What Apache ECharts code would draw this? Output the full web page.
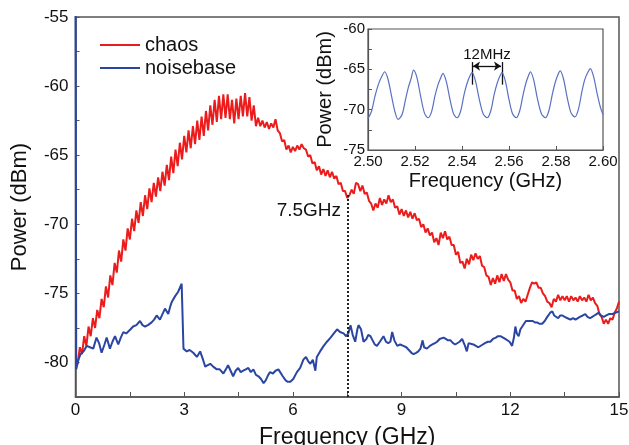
<!DOCTYPE html>
<html>
<head>
<meta charset="utf-8">
<script src="https://cdn.jsdelivr.net/npm/echarts@6/dist/echarts.min.js"></script>
<style>
  html, body { margin: 0; padding: 0; background: #fff; }
  #chart { width: 629px; height: 445px; }
</style>
</head>
<body>
<div id="chart"></div>
<script>
// chaos spectrum, [GHz, dBm]
const chaosSpectrum = [
  [0.00, -80.0], [0.06, -80.1], [0.12, -78.9], [0.18, -79.4], [0.24, -78.1], [0.30, -78.8],
  [0.36, -77.4], [0.42, -78.1], [0.48, -76.8], [0.54, -77.5], [0.60, -76.2], [0.66, -76.8],
  [0.72, -75.4], [0.78, -76.0], [0.84, -74.5], [0.90, -75.3], [0.96, -73.7], [1.02, -74.4],
  [1.08, -72.8], [1.14, -73.5], [1.20, -71.9], [1.26, -72.7], [1.32, -71.1], [1.38, -71.9],
  [1.44, -70.3], [1.50, -71.1], [1.56, -69.6], [1.62, -70.5], [1.68, -69.0], [1.74, -69.9],
  [1.80, -68.4], [1.86, -69.4], [1.92, -67.9], [1.98, -68.9], [2.04, -67.4], [2.10, -68.4],
  [2.16, -67.0], [2.22, -68.0], [2.28, -66.6], [2.34, -67.6], [2.40, -66.2], [2.46, -67.2],
  [2.52, -65.7], [2.58, -66.8], [2.64, -65.1], [2.70, -66.3], [2.76, -64.6], [2.82, -65.8],
  [2.88, -64.1], [2.94, -65.3], [3.00, -63.6], [3.06, -64.8], [3.12, -63.2], [3.18, -64.5],
  [3.24, -62.9], [3.30, -64.2], [3.36, -62.5], [3.42, -63.9], [3.48, -62.2], [3.54, -63.6],
  [3.60, -61.8], [3.66, -63.2], [3.72, -61.4], [3.78, -62.8], [3.84, -61.0], [3.90, -62.6],
  [3.96, -60.7], [4.02, -62.4], [4.08, -60.6], [4.14, -62.3], [4.20, -60.6], [4.26, -62.4],
  [4.32, -61.0], [4.38, -62.7], [4.44, -60.9], [4.50, -62.4], [4.56, -60.7], [4.62, -62.2],
  [4.68, -60.5], [4.74, -62.2], [4.80, -60.8], [4.86, -62.5], [4.92, -61.4], [4.98, -62.9],
  [5.04, -62.3], [5.10, -62.9], [5.16, -62.5], [5.22, -63.0], [5.28, -62.6], [5.34, -63.1],
  [5.40, -62.7], [5.46, -63.0], [5.52, -62.4], [5.58, -63.2], [5.64, -63.4], [5.70, -64.0],
  [5.76, -63.9], [5.82, -64.6], [5.88, -64.3], [5.94, -64.8], [6.00, -64.4], [6.06, -64.7],
  [6.12, -64.3], [6.18, -64.6], [6.24, -64.2], [6.30, -64.5], [6.36, -64.6], [6.42, -65.1],
  [6.48, -65.0], [6.54, -65.6], [6.60, -65.5], [6.66, -66.1], [6.72, -65.8], [6.78, -66.4],
  [6.84, -66.0], [6.90, -66.5], [6.96, -66.1], [7.02, -66.6], [7.08, -66.2], [7.14, -66.7],
  [7.20, -66.5], [7.26, -67.1], [7.32, -67.0], [7.38, -67.6], [7.44, -67.6], [7.50, -68.1],
  [7.56, -67.9], [7.62, -67.5], [7.68, -67.8], [7.74, -67.0], [7.80, -67.1], [7.86, -67.6],
  [7.92, -67.2], [7.98, -67.8], [8.04, -67.7], [8.10, -68.3], [8.16, -68.5], [8.22, -69.0],
  [8.28, -68.5], [8.34, -68.8], [8.40, -68.1], [8.46, -68.6], [8.52, -68.2], [8.58, -68.5],
  [8.64, -67.9], [8.70, -68.4], [8.76, -68.2], [8.82, -68.8], [8.88, -68.7], [8.94, -69.3],
  [9.00, -68.9], [9.06, -69.4], [9.12, -69.0], [9.18, -69.5], [9.24, -69.1], [9.30, -69.6],
  [9.36, -69.2], [9.42, -69.7], [9.48, -69.6], [9.54, -70.2], [9.60, -70.0], [9.66, -70.6],
  [9.72, -70.3], [9.78, -70.8], [9.84, -70.6], [9.90, -71.3], [9.96, -71.0], [10.02, -71.5],
  [10.08, -70.6], [10.14, -71.0], [10.20, -70.5], [10.26, -71.1], [10.32, -70.9], [10.38, -71.5],
  [10.44, -71.5], [10.50, -72.2], [10.56, -72.0], [10.62, -72.8], [10.68, -72.7], [10.74, -73.2],
  [10.80, -72.5], [10.86, -72.9], [10.92, -72.2], [10.98, -72.6], [11.04, -72.1], [11.10, -72.5],
  [11.16, -72.3], [11.22, -73.0], [11.28, -73.1], [11.34, -73.7], [11.40, -73.8], [11.46, -74.4],
  [11.52, -73.9], [11.58, -74.3], [11.64, -73.7], [11.70, -74.2], [11.76, -73.6], [11.82, -74.1],
  [11.88, -73.6], [11.94, -74.0], [12.00, -74.2], [12.06, -74.8], [12.12, -74.8], [12.18, -75.4],
  [12.24, -75.2], [12.30, -75.7], [12.36, -75.4], [12.42, -75.6], [12.48, -75.1], [12.54, -74.6],
  [12.60, -74.2], [12.66, -74.3], [12.72, -74.2], [12.78, -74.6], [12.84, -74.6], [12.90, -75.0],
  [12.96, -75.2], [13.02, -75.6], [13.08, -75.7], [13.14, -76.0], [13.20, -75.4], [13.26, -75.6],
  [13.32, -75.1], [13.38, -75.5], [13.44, -75.2], [13.50, -75.5], [13.56, -75.2], [13.62, -75.6],
  [13.68, -75.2], [13.74, -75.5], [13.80, -75.3], [13.86, -75.6], [13.92, -75.2], [13.98, -75.5],
  [14.04, -75.3], [14.10, -75.6], [14.16, -75.1], [14.22, -75.5], [14.28, -75.3], [14.34, -75.7],
  [14.40, -75.9], [14.46, -76.5], [14.52, -76.7], [14.58, -77.2], [14.64, -76.9], [14.70, -77.2],
  [14.76, -76.8], [14.82, -76.9], [14.88, -76.4], [14.94, -76.1], [15.00, -75.6]
];

// noise floor, [GHz, dBm]; first point is the DC spike running off the top
const noiseSpectrum = [
  [0.00, -50.0], [0.02, -80.5], [0.08, -79.8], [0.14, -79.4], [0.22, -79.2], [0.31, -78.8],
  [0.40, -78.9], [0.49, -79.0], [0.58, -78.2], [0.65, -78.6], [0.72, -79.3], [0.80, -78.7],
  [0.86, -78.2], [0.95, -79.0], [1.02, -78.5], [1.09, -78.1], [1.18, -78.7], [1.25, -78.2],
  [1.32, -77.8], [1.40, -77.9], [1.45, -77.8], [1.52, -77.6], [1.59, -77.4], [1.68, -77.3],
  [1.78, -77.0], [1.85, -77.3], [1.92, -77.4], [2.00, -77.3], [2.10, -77.1], [2.17, -76.9],
  [2.24, -76.6], [2.33, -76.9], [2.40, -76.5], [2.47, -76.1], [2.56, -76.5], [2.62, -75.9],
  [2.66, -75.6], [2.75, -75.2], [2.83, -74.9], [2.88, -75.0], [2.93, -74.3], [2.98, -79.0],
  [3.07, -79.2], [3.15, -79.1], [3.25, -79.3], [3.35, -79.6], [3.44, -79.2], [3.52, -79.8],
  [3.58, -80.3], [3.65, -80.2], [3.72, -80.1], [3.80, -80.3], [3.90, -80.5], [3.98, -80.5],
  [4.08, -80.8], [4.15, -80.5], [4.21, -80.2], [4.28, -80.6], [4.35, -81.0], [4.42, -80.6],
  [4.49, -80.4], [4.56, -80.7], [4.63, -80.6], [4.70, -80.5], [4.77, -80.4], [4.84, -80.7],
  [4.91, -80.5], [4.98, -80.9], [5.05, -81.0], [5.12, -81.2], [5.19, -81.5], [5.25, -81.3],
  [5.32, -80.9], [5.37, -80.7], [5.45, -80.8], [5.52, -80.6], [5.60, -80.5], [5.65, -80.6],
  [5.72, -81.0], [5.80, -81.3], [5.86, -81.4], [5.93, -81.4], [6.01, -81.2], [6.11, -80.7],
  [6.20, -80.4], [6.29, -79.8], [6.36, -79.6], [6.42, -79.9], [6.48, -80.1], [6.55, -79.8],
  [6.62, -80.6], [6.66, -79.6], [6.75, -79.2], [6.85, -78.8], [6.94, -78.5], [7.04, -78.2],
  [7.13, -77.9], [7.22, -77.6], [7.30, -77.8], [7.40, -77.9], [7.47, -78.1], [7.53, -77.9],
  [7.59, -77.3], [7.65, -78.0], [7.72, -78.5], [7.78, -77.6], [7.81, -77.3], [7.88, -77.6],
  [7.95, -78.5], [8.03, -78.3], [8.08, -78.0], [8.14, -78.1], [8.20, -78.4], [8.26, -78.7],
  [8.32, -78.8], [8.40, -78.5], [8.45, -78.3], [8.50, -78.1], [8.57, -78.5], [8.63, -78.6],
  [8.69, -78.5], [8.74, -77.8], [8.80, -78.4], [8.88, -78.8], [8.96, -78.7], [9.05, -78.8],
  [9.13, -78.9], [9.20, -79.1], [9.27, -79.3], [9.33, -79.4], [9.40, -79.3], [9.46, -79.2],
  [9.52, -79.0], [9.58, -78.4], [9.62, -78.9], [9.70, -79.0], [9.78, -78.8], [9.85, -78.7],
  [9.92, -78.6], [9.98, -78.5], [10.05, -78.3], [10.10, -78.2], [10.16, -78.2], [10.22, -78.3],
  [10.28, -78.4], [10.35, -78.4], [10.42, -78.6], [10.48, -78.7], [10.53, -78.7], [10.60, -78.5],
  [10.67, -78.3], [10.70, -78.2], [10.75, -78.8], [10.80, -79.2], [10.85, -78.6], [10.90, -78.5],
  [10.98, -78.7], [11.05, -78.8], [11.12, -78.9], [11.17, -78.9], [11.24, -78.7], [11.30, -78.6],
  [11.38, -78.5], [11.45, -78.5], [11.52, -78.3], [11.60, -78.2], [11.66, -78.1], [11.73, -78.1],
  [11.80, -78.2], [11.86, -78.3], [11.91, -78.3], [11.98, -78.5], [12.05, -78.8], [12.10, -78.2],
  [12.14, -77.4], [12.18, -77.9], [12.23, -78.1], [12.28, -77.6], [12.33, -77.4], [12.38, -77.2],
  [12.43, -77.0], [12.47, -76.9], [12.55, -77.0], [12.62, -77.0], [12.68, -77.1], [12.74, -77.1],
  [12.80, -77.2], [12.88, -77.2], [12.95, -77.0], [13.02, -76.7], [13.10, -76.4], [13.16, -76.3],
  [13.21, -76.6], [13.25, -76.6], [13.32, -76.8], [13.38, -76.6], [13.44, -76.6], [13.50, -76.7],
  [13.58, -76.8], [13.66, -76.9], [13.73, -76.8], [13.80, -76.9], [13.85, -76.9], [13.92, -76.7],
  [14.00, -76.6], [14.07, -76.5], [14.13, -76.7], [14.20, -76.8], [14.26, -76.7], [14.32, -76.6],
  [14.38, -76.5], [14.44, -76.4], [14.50, -76.6], [14.58, -76.7], [14.65, -76.6], [14.72, -76.5],
  [14.81, -76.5], [14.90, -76.4], [15.00, -76.3]
];

// zoomed view 2.50-2.60 GHz, [GHz, dBm]
const insetSpectrum = [
  [2.5000, -71.1], [2.5015, -70.2], [2.5030, -68.3], [2.5045, -66.8], [2.5060, -65.8], [2.5071, -65.3],
  [2.5085, -66.2], [2.5100, -68.3], [2.5115, -70.3], [2.5128, -71.2],
  [2.5145, -70.6], [2.5160, -68.7], [2.5172, -67.2], [2.5183, -66.2], [2.5194, -65.1],
  [2.5208, -66.0], [2.5223, -68.2], [2.5240, -70.4], [2.5255, -71.0],
  [2.5270, -70.3], [2.5285, -68.3], [2.5298, -66.9], [2.5310, -66.0], [2.5319, -65.5],
  [2.5333, -66.5], [2.5348, -68.6], [2.5364, -70.5], [2.5379, -71.0],
  [2.5394, -70.2], [2.5409, -68.1], [2.5422, -66.7], [2.5434, -65.8], [2.5443, -65.4],
  [2.5457, -66.4], [2.5472, -68.5], [2.5490, -70.5], [2.5507, -71.0],
  [2.5522, -70.2], [2.5537, -68.1], [2.5550, -66.7], [2.5562, -65.8], [2.5570, -65.4],
  [2.5584, -66.4], [2.5599, -68.6], [2.5615, -70.5], [2.5631, -71.0],
  [2.5646, -70.1], [2.5661, -68.0], [2.5673, -66.6], [2.5684, -65.7], [2.5691, -65.3],
  [2.5705, -66.3], [2.5720, -68.5], [2.5738, -70.5], [2.5755, -71.0],
  [2.5770, -70.1], [2.5785, -68.0], [2.5797, -66.6], [2.5809, -65.6], [2.5818, -65.2],
  [2.5832, -66.2], [2.5847, -68.4], [2.5864, -70.4], [2.5880, -70.9],
  [2.5895, -70.0], [2.5910, -67.8], [2.5922, -66.3], [2.5935, -65.4], [2.5946, -64.9],
  [2.5960, -65.9], [2.5975, -68.0], [2.5990, -69.8], [2.6000, -70.6]
];

// annotation positions
const cutoffFreq = 7.5;            // GHz, dotted line
const cutoffTop = -67.8;           // dBm where the dotted line stops
const spacingMarks = [2.5443, 2.5570]; // GHz, adjacent ripple peaks

const FONT = "'Liberation Sans', Arial, sans-serif";
const AXIS_COLOR = '#555';

const isMultiple = (v, step) => Math.abs(v / step - Math.round(v / step)) < 1e-6;

const chart = echarts.init(document.getElementById('chart'), null, { renderer: 'canvas' });

chart.setOption({
  animation: false,
  backgroundColor: '#fff',
  textStyle: { fontFamily: FONT },
  legend: {
    data: ['chaos', 'noisebase'],
    orient: 'vertical',
    left: 95,
    top: 30,
    icon: 'path://M0,0H40V2H0Z',
    itemWidth: 40,
    itemHeight: 2,
    itemGap: 3,
    textStyle: { fontSize: 20, color: '#111', fontFamily: FONT }
  },
  grid: [
    { left: 75.5, right: 10, top: 17, bottom: 48, outerBoundsMode: 'none', containLabel: false,
      show: true, borderColor: AXIS_COLOR, borderWidth: 1.5 },
    { left: 368, right: 26, top: 29, bottom: 295, outerBoundsMode: 'none', containLabel: false,
      show: true, borderColor: AXIS_COLOR, borderWidth: 1.2, backgroundColor: '#fff' }
  ],
  xAxis: [
    {
      gridIndex: 0, type: 'value', min: 0, max: 15, interval: 1.5,
      name: 'Frequency (GHz)', nameLocation: 'middle', nameGap: 29,
      nameTextStyle: { fontSize: 23, color: '#111', fontFamily: FONT },
      axisLine: { lineStyle: { color: AXIS_COLOR, width: 1.5 } },
      axisTick: { inside: true, length: 5, lineStyle: { color: AXIS_COLOR } },
      axisLabel: { fontSize: 17, color: '#111', margin: 5, formatter: v => (isMultiple(v, 3) ? String(v) : '') },
      splitLine: { show: false }
    },
    {
      gridIndex: 1, type: 'value', min: 2.5, max: 2.6, interval: 0.02,
      name: 'Frequency (GHz)', nameLocation: 'middle', nameGap: 21,
      nameTextStyle: { fontSize: 20, color: '#111', fontFamily: FONT },
      axisLine: { lineStyle: { color: AXIS_COLOR, width: 1.2 } },
      axisTick: { inside: true, length: 4, lineStyle: { color: AXIS_COLOR } },
      axisLabel: { fontSize: 15, color: '#111', margin: 4, formatter: v => v.toFixed(2) },
      splitLine: { show: false }
    }
  ],
  yAxis: [
    {
      gridIndex: 0, type: 'value', min: -82.5, max: -55, interval: 2.5,
      name: 'Power (dBm)', nameLocation: 'middle', nameGap: 45,
      nameTextStyle: { fontSize: 22, color: '#111', fontFamily: FONT },
      axisLine: { lineStyle: { color: AXIS_COLOR, width: 1.5 } },
      axisTick: { inside: true, length: 4, lineStyle: { color: AXIS_COLOR } },
      axisLabel: { fontSize: 17, color: '#111', margin: 7, formatter: v => (isMultiple(v, 5) ? String(v) : '') },
      splitLine: { show: false }
    },
    {
      gridIndex: 1, type: 'value', min: -75, max: -60, interval: 2.5,
      name: 'Power (dBm)', nameLocation: 'middle', nameGap: 33,
      nameTextStyle: { fontSize: 20, color: '#111', fontFamily: FONT },
      axisLine: { lineStyle: { color: AXIS_COLOR, width: 1.2 } },
      axisTick: { inside: true, length: 4, lineStyle: { color: AXIS_COLOR } },
      axisLabel: { fontSize: 15, color: '#111', margin: 3, formatter: v => (isMultiple(v, 5) ? String(v) : '') },
      splitLine: { show: false }
    }
  ],
  series: [
    {
      name: 'chaos', type: 'line', xAxisIndex: 0, yAxisIndex: 0,
      data: chaosSpectrum, symbol: 'none', clip: true,
      lineStyle: { color: '#ec1c1c', width: 2 }, itemStyle: { color: '#ec1c1c' },
      z: 3,
      markLine: {
        silent: true, symbol: ['none', 'none'], animation: false,
        label: { show: false },
        lineStyle: { type: 'dotted', color: '#222', width: 2 },
        data: [[{ coord: [cutoffFreq, -82.5] }, { coord: [cutoffFreq, cutoffTop] }]]
      },
      markPoint: {
        silent: true, symbol: 'circle', symbolSize: 0, animation: false,
        itemStyle: { color: 'transparent' },
        label: { show: true, position: 'left', distance: 4, formatter: '7.5GHz', fontSize: 19, color: '#111', fontFamily: FONT },
        data: [{ coord: [7.44, -69.0] }]
      }
    },
    {
      name: 'noisebase', type: 'line', xAxisIndex: 0, yAxisIndex: 0,
      data: noiseSpectrum, symbol: 'none', clip: true,
      lineStyle: { color: '#2b45a3', width: 2 }, itemStyle: { color: '#2b45a3' },
      z: 4
    },
    {
      name: 'inset', type: 'line', xAxisIndex: 1, yAxisIndex: 1,
      data: insetSpectrum, symbol: 'none', smooth: 0.3, clip: true,
      lineStyle: { color: '#5a70c4', width: 1.2 },
      z: 5,
      markLine: {
        silent: true, symbol: ['none', 'none'], animation: false,
        label: { show: false },
        lineStyle: { type: 'solid', color: '#111', width: 1.3 },
        data: [
          [{ coord: [spacingMarks[0], -64.1] }, { coord: [spacingMarks[0], -66.9] }],
          [{ coord: [spacingMarks[1], -64.1] }, { coord: [spacingMarks[1], -66.9] }],
          [
            { coord: [spacingMarks[0] + 0.0004, -64.6], symbol: 'arrow', symbolSize: 7,
              label: { show: true, position: 'middle', formatter: '12MHz', fontSize: 15, color: '#111', distance: 4, fontFamily: FONT } },
            { coord: [spacingMarks[1] - 0.0004, -64.6], symbol: 'arrow', symbolSize: 7 }
          ]
        ]
      }
    }
  ]
});
</script>
</body>
</html>
